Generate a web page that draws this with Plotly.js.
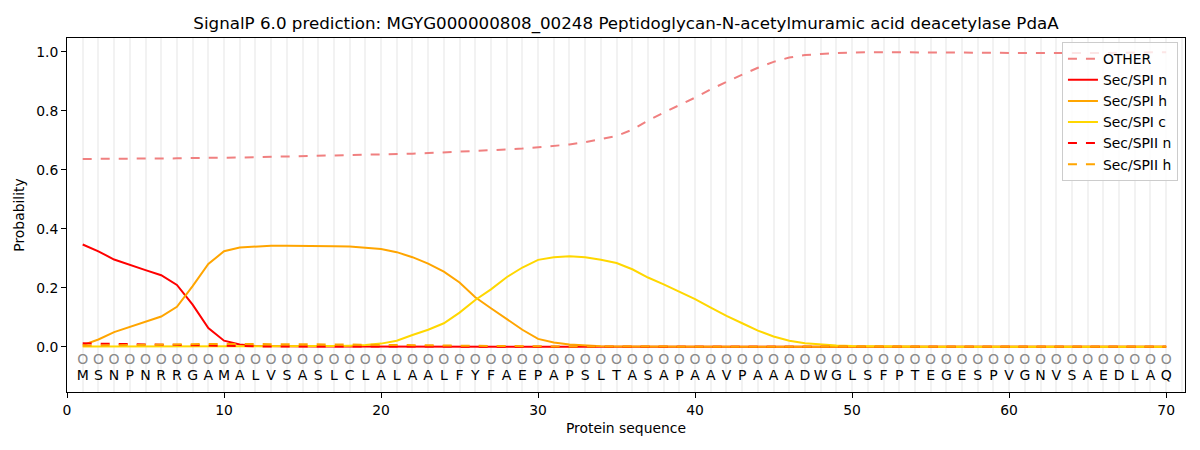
<!DOCTYPE html>
<html>
<head>
<meta charset="utf-8">
<script src="https://cdn.plot.ly/plotly-3.0.1.min.js"></script>
<style>html,body{margin:0;padding:0;background:#fff;}#chart{width:1200px;height:450px;}</style>
</head>
<body>
<div id="chart"></div>
<script>
// ---- data ----
const sequence = ["M","S","N","P","N","R","R","G","A","M","A","L","V","S","A","S","L","C","L","A",
  "L","A","A","L","F","Y","F","A","E","P","A","P","S","L","T","A","S","A","P","A",
  "A","V","P","A","A","A","D","W","G","L","S","F","P","T","E","G","E","S","P","V",
  "G","N","V","S","A","E","D","L","A","Q"];
const regionLabels = sequence.map(() => "O");
const positions = sequence.map((_, i) => i + 1);

const otherProb = [0.637,0.637,0.637,0.638,0.638,0.638,0.639,0.640,0.640,0.641,
  0.642,0.643,0.644,0.645,0.646,0.647,0.648,0.649,0.650,0.651,
  0.653,0.655,0.657,0.659,0.661,0.663,0.666,0.669,0.672,0.676,
  0.681,0.686,0.694,0.704,0.715,0.736,0.767,0.794,0.819,0.845,
  0.873,0.899,0.923,0.946,0.966,0.981,0.989,0.993,0.996,0.998,
  0.999,0.999,0.999,0.999,0.999,0.998,0.998,0.997,0.997,0.996,
  0.996,0.995,0.994,0.994,0.995,0.996,0.997,0.998,0.998,0.999];
const spiN = [0.347,0.324,0.296,0.277,0.260,0.243,0.210,0.143,0.064,0.021,
  0.008,0.003,0.002,0.001,0.001,0.001,0.001,0.001,0.001,0.001,
  0.001,0.001,0.001,0.001,0.001,0,0,0,0,0,
  0,0,0,0,0,0,0,0,0,0, 0,0,0,0,0,0,0,0,0,0,
  0,0,0,0,0,0,0,0,0,0, 0,0,0,0,0,0,0,0,0,0];
const spiH = [0.006,0.025,0.050,0.068,0.085,0.103,0.136,0.206,0.281,0.324,
  0.337,0.341,0.343,0.343,0.343,0.342,0.341,0.340,0.337,0.332,
  0.321,0.304,0.282,0.255,0.218,0.168,0.131,0.094,0.058,0.027,
  0.015,0.008,0.004,0.002,0.001,0.001,0.001,0.001,0.001,0.001,
  0.001,0.001,0.001,0.001,0.001,0,0,0,0,0,
  0,0,0,0,0,0,0,0,0,0, 0,0,0,0,0,0,0,0,0,0];
const spiC = [0.001,0.001,0.001,0.001,0.001,0.001,0.001,0.001,0.001,0.001,
  0.001,0.002,0.002,0.002,0.002,0.003,0.003,0.004,0.006,0.011,
  0.021,0.040,0.058,0.080,0.116,0.159,0.195,0.236,0.269,0.295,
  0.304,0.307,0.304,0.295,0.284,0.263,0.235,0.212,0.188,0.162,
  0.133,0.105,0.080,0.055,0.035,0.021,0.012,0.008,0.005,0.003,
  0.002,0.001,0.001,0.001,0,0,0,0,0,0, 0,0,0,0,0,0,0,0,0,0];
const spiiN = [0.012,0.011,0.010,0.009,0.008,0.007,0.006,0.004,0.003,0.002,
  0.001,0.001,0.001,0.001,0.001,0.001,0.001,0.001,0.001,0.001,
  0,0,0,0,0,0,0,0,0,0, 0,0,0,0,0,0,0,0,0,0,
  0,0,0,0,0,0,0,0,0,0, 0,0,0,0,0,0,0,0,0,0, 0,0,0,0,0,0,0,0,0,0];
const spiiH = [0.004,0.005,0.006,0.007,0.007,0.008,0.008,0.009,0.010,0.010,
  0.010,0.010,0.010,0.009,0.009,0.009,0.008,0.008,0.007,0.007,
  0.006,0.006,0.005,0.005,0.004,0.004,0.003,0.003,0.002,0.002,
  0.001,0.001,0.001,0.001,0.001,0.001,0.001,0.001,0.001,0.001,
  0,0,0,0,0,0,0,0,0,0, 0,0,0,0,0,0,0,0,0,0, 0,0,0,0,0,0,0,0,0,0];

const xTicks = [0,10,20,30,40,50,60,70];
const yTicks = [0,0.2,0.4,0.6,0.8,1.0];
const yTickText = ["0.0","0.2","0.4","0.6","0.8","1.0"];
const titleText = "SignalP 6.0 prediction: MGYG000000808_00248 Peptidoglycan-N-acetylmuramic acid deacetylase PdaA";

// ---- traces ----
const FONT = "DejaVu Sans, Liberation Sans, sans-serif";
function line(name, y, color, dash) {
  return {x: positions, y: y, name: name, type: "scatter", mode: "lines",
    line: {color: color, width: 2, dash: dash}};
}
const traces = [
  line("OTHER", otherProb, "#f08080", "dash"),
  line("Sec/SPI n", spiN, "#ff0000", "solid"),
  line("Sec/SPI h", spiH, "#ffa500", "solid"),
  line("Sec/SPI c", spiC, "#ffd700", "solid"),
  line("Sec/SPII n", spiiN, "#ff0000", "dash"),
  line("Sec/SPII h", spiiH, "#ffa500", "dash"),
  {x: positions, y: positions.map(() => -0.047), text: regionLabels, type: "scatter", mode: "text",
    textfont: {family: FONT, size: 14, color: "#8a8a8a"}, showlegend: false, hoverinfo: "skip"},
  {x: positions, y: positions.map(() => -0.1), text: sequence, type: "scatter", mode: "text",
    textfont: {family: FONT, size: 14, color: "#000000"}, showlegend: false, hoverinfo: "skip"}
];

const layout = {
  width: 1200, height: 450,
  margin: {l: 67, r: 15, t: 38, b: 58},
  paper_bgcolor: "#ffffff", plot_bgcolor: "#ffffff",
  font: {family: FONT, size: 14, color: "#000000"},
  title: {text: titleText, font: {family: FONT, size: 16.7, color: "#000"},
    x: 0.5, xref: "paper", xanchor: "center", y: 1 - 23/450, yref: "container", yanchor: "middle"},
  xaxis: {
    range: [0, 71.2], tickvals: xTicks, ticks: "outside", ticklen: 5, tickwidth: 1, tickcolor: "#000",
    showline: true, mirror: true, linecolor: "#000", linewidth: 1, zeroline: false,
    showgrid: true, gridcolor: "#f2f2f2", gridwidth: 2,
    minor: {dtick: 1, tick0: 0, showgrid: true, gridcolor: "#f2f2f2", gridwidth: 2, ticks: ""},
    tickfont: {family: FONT, size: 13.9},
    title: {text: "Protein sequence", font: {family: FONT, size: 13.9}, standoff: 6}
  },
  yaxis: {
    range: [-0.153, 1.047], tickvals: yTicks, ticktext: yTickText, ticks: "outside", ticklen: 5, tickwidth: 1,
    tickcolor: "#000", showline: true, mirror: true, linecolor: "#000", linewidth: 1,
    zeroline: false, showgrid: false, tickfont: {family: FONT, size: 13.9},
    title: {text: "Probability", font: {family: FONT, size: 13.9}, standoff: 8}
  },
  legend: {x: 0.9937, xanchor: "right", y: 0.988, yanchor: "top", bgcolor: "rgba(255,255,255,0.8)",
    bordercolor: "#cccccc", borderwidth: 1, font: {family: FONT, size: 13.9}}
};

Plotly.newPlot("chart", traces, layout, {displayModeBar: false, staticPlot: true});
</script>
</body>
</html>
